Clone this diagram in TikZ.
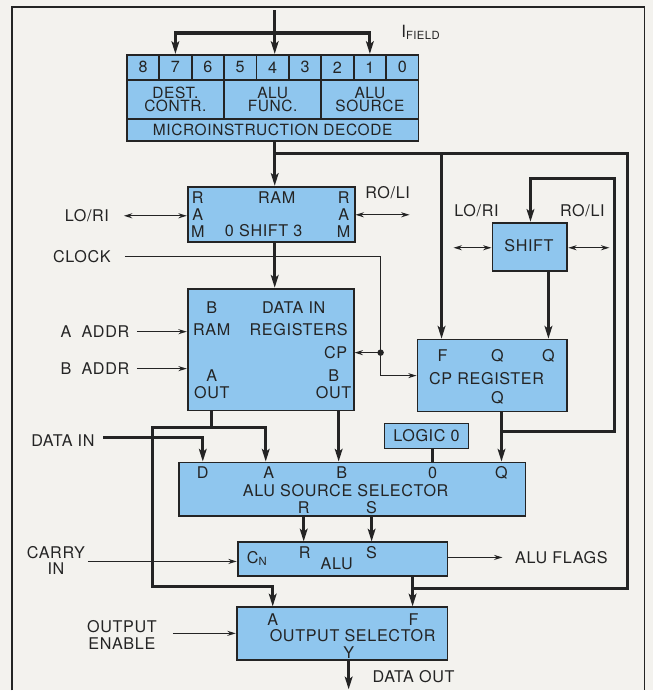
\documentclass[tikz,border=0pt]{standalone}
\usepackage{fontspec}
\setmainfont{TeX Gyre Heros}[LetterSpace=4]
\usetikzlibrary{arrows.meta, calc}
\definecolor{chipblue}{HTML}{8FC6EE}
\definecolor{paper}{HTML}{F3F2EE}
\definecolor{ink}{HTML}{242424}

\begin{document}
\begin{tikzpicture}[
    x=0.025cm, y=-0.025cm,
    every node/.style={text=ink, font=\fontsize{11.5}{12}\selectfont, inner sep=1pt, align=center},
    box/.style={draw=ink, fill=chipblue, line width=1.3pt, inner sep=0pt, anchor=north west},
    bus/.style={draw=ink, line width=2.2pt, line cap=rect},
    busarrow/.style={bus, -{Stealth[length=9pt, width=5.5pt, inset=2pt]}},
    sig/.style={draw=ink, line width=0.9pt},
    sigarrow/.style={sig, -{Stealth[length=6pt, width=3.6pt]}},
    bidir/.style={sig, {Stealth[length=6pt, width=3.6pt]}-{Stealth[length=6pt, width=3.6pt]}},
  ]

  % Background and frame
  \fill[paper] (0,0) rectangle (654,691);
  \draw[ink, line width=1pt] (12,691) -- (12,7) -- (645,7) -- (645,691);

  % === Microinstruction decode ===
  \foreach \b [count=\k from 0] in {8,7,...,0}
    \node[box, minimum width=0.811cm, minimum height=0.625cm] (bit\b) at ({126+32.444*\k},54) {\b};
  \node[box, minimum width=2.433cm, minimum height=0.975cm, font=\fontsize{11}{9.6}\selectfont]
    (dest) at (126,79) {DEST.\\CONTR.};
  \node[box, minimum width=2.433cm, minimum height=0.975cm, font=\fontsize{11}{9.6}\selectfont]
    (func) at (223.33,79) {ALU\\FUNC.};
  \node[box, minimum width=2.433cm, minimum height=0.975cm, font=\fontsize{11}{9.6}\selectfont]
    (src) at (320.67,79) {ALU\\SOURCE};
  \node[box, minimum width=7.3cm, minimum height=0.55cm, font=\fontsize{11}{12}\selectfont]
    (decode) at (126,118) {MICROINSTRUCTION DECODE};
  \node (ifield) at (421,32) {{\fontsize{12}{13}\selectfont I}\raisebox{-1.5pt}{\fontsize{8}{9}\selectfont FIELD}};

  % === Blocks ===
  \node[box, minimum width=4.175cm, minimum height=1.375cm] (ramshift) at (187,186) {};
  \node[box, minimum width=4.15cm, minimum height=3.05cm] (ramreg) at (187,288) {};
  \node[box, minimum width=1.875cm, minimum height=1.2cm] (shift) at (492,222) {};
  \node[box, minimum width=3.75cm, minimum height=1.8cm] (cpreg) at (417,339) {};
  \node[box, minimum width=2.1cm, minimum height=0.625cm] (logic) at (384,423) {LOGIC 0};
  \node[box, minimum width=8.675cm, minimum height=1.35cm] (alusrc) at (178,462) {};
  \node[box, minimum width=5.25cm, minimum height=0.85cm] (alu) at (237,542) {};
  \node[box, minimum width=5.275cm, minimum height=1.325cm] (outsel) at (236,607) {};

  % labels inside the blocks
  \node (rsL) at (198,215) {R\\A\\M};
  \node (rsR) at (344,215) {R\\A\\M};
  \node (rsram) at (277,198) {RAM};
  \node (rsshift) at (264,231) {0 SHIFT 3};

  \node (rrB) at (212,308) {B};
  \node (rrdata) at (294,308) {DATA IN};
  \node (rrram) at (212,330) {RAM};
  \node (rrregs) at (299,330) {REGISTERS};
  \node (rrcp) at (336,353) {CP};
  \node (rraout) at (212,385) {A\\OUT};
  \node (rrbout) at (334,385) {B\\OUT};

  \node (shname) at (529.5,246) {SHIFT};

  \node (cpF) at (443,356) {F};
  \node (cpQa) at (498,356) {Q};
  \node (cpQb) at (549,356) {Q};
  \node (cpname) at (487,379) {CP REGISTER};
  \node (cpQc) at (498,398) {Q};

  \node (sD) at (203,473) {D};
  \node (sA) at (269,473) {A};
  \node (sB) at (342,473) {B};
  \node (sZ) at (433,473) {0};
  \node (sQ) at (502,473) {Q};
  \node (sname) at (346,491) {ALU SOURCE SELECTOR};
  \node (sR) at (304,508) {R};
  \node (sS) at (372,508) {S};

  \node (aluCn) at (257,559) {C\raisebox{-2pt}{\fontsize{8}{9}\selectfont N}};
  \node (aluR) at (305,553) {R};
  \node (aluname) at (337,564) {ALU};
  \node (aluS) at (372,553) {S};

  \node (oA) at (273,620) {A};
  \node (oname) at (353,636) {OUTPUT SELECTOR};
  \node (oF) at (414,620) {F};
  \node (oY) at (349,653) {Y};

  % outside labels
  \node (lori1) at (87,216) {LO/RI};
  \node (roli1) at (388,193) {RO/LI};
  \node (lori2) at (477,211) {LO/RI};
  \node (roli2) at (583,211) {RO/LI};
  \node (clock) at (82,257) {CLOCK};
  \node (aaddr) at (95,332) {A~~ADDR};
  \node (baddr) at (95,369) {B~~ADDR};
  \node (datain) at (63,441) {DATA IN};
  \node (carry) at (56,561) {CARRY\\IN};
  \node (flags) at (562,558) {ALU FLAGS};
  \node (oe) at (122,636) {OUTPUT\\ENABLE};
  \node (dataout) at (414,677) {DATA OUT};

  % === Instruction field ===
  \coordinate (fin) at (275,12);
  \coordinate (fbar) at (275,33);
  \draw[bus] (fin) -- (fbar);
  \draw[busarrow] (fbar) -| (bit7.north);
  \draw[busarrow] (fbar) -| (bit1.north);
  \draw[busarrow] (fbar) -- (fbar |- bit4.north);

  % === F bus and feedback ===
  \coordinate (dtap) at (275,154);
  \coordinate (fr1) at (628,154);
  \coordinate (fr2) at (628,589);
  \coordinate (fjoin) at (413,589);
  \coordinate (cpf) at (442,154);
  \draw[busarrow] (dtap |- decode.south) -- (dtap |- ramshift.north);
  \draw[bus] (dtap) -- (fr1) -- (fr2) -- (fjoin);
  \draw[busarrow] (cpf) -- (cpf |- cpreg.north);
  \draw[busarrow] (dtap |- ramshift.south) -- (dtap |- ramreg.north);
  \draw[busarrow] (fjoin |- alu.south) -- (fjoin |- outsel.north);

  % === Q loop ===
  \coordinate (qj) at (502,432);
  \coordinate (qr1) at (615,432);
  \coordinate (qr2) at (615,179);
  \coordinate (qtop) at (531,179);
  \coordinate (sq) at (549,300);
  \draw[bus] (qj |- cpreg.south) -- (qj);
  \draw[busarrow] (qj) -- (qj |- alusrc.north);
  \draw[busarrow] (qj) -- (qr1) -- (qr2) -- (qtop) -- (qtop |- shift.north);
  \draw[busarrow] (sq |- shift.south) -- (sq |- cpreg.north);

  % === Shifter ports ===
  \coordinate (lr1) at (124,216);
  \coordinate (rl1) at (410,215);
  \coordinate (lr2) at (454,248);
  \coordinate (rl2) at (610,248);
  \draw[bidir] (lr1) -- (ramshift.west |- lr1);
  \draw[bidir] (ramshift.east |- rl1) -- (rl1);
  \draw[bidir] (lr2) -- (shift.west |- lr2);
  \draw[bidir] (shift.east |- rl2) -- (rl2);

  % === Clock and addresses ===
  \coordinate (clk0) at (125,257);
  \coordinate (clk1) at (381,257);
  \coordinate (clkdot) at (381,353);
  \coordinate (clk2) at (381,376);
  \draw[sigarrow] (clk0) -- (clk1) -- (clk2) -- (cpreg.west |- clk2);
  \fill[ink] (clkdot) circle (2.3pt);
  \draw[sigarrow] (clkdot) -- (ramreg.east |- clkdot);
  \coordinate (aa0) at (137,332);
  \coordinate (ba0) at (137,369);
  \draw[sigarrow] (aa0) -- (ramreg.west |- aa0);
  \draw[sigarrow] (ba0) -- (ramreg.west |- ba0);

  % === RAM outputs and data in ===
  \coordinate (aj) at (212,428);
  \coordinate (aL) at (153,428);
  \coordinate (aR) at (266,428);
  \coordinate (abot) at (153,587);
  \coordinate (aob) at (273,587);
  \coordinate (bo) at (339,440);
  \coordinate (din0) at (105,438);
  \draw[bus] (ramreg.south -| aj) -- (aj);
  \draw[busarrow] (aL) -- (aR) -- (aR |- alusrc.north);
  \draw[busarrow] (aL) -- (abot) -- (aob) -- (aob |- outsel.north);
  \draw[busarrow] (din0) -| (sD |- alusrc.north);
  \draw[busarrow] (bo |- ramreg.south) -- (bo |- alusrc.north);
  \draw[bus] (sZ |- logic.south) -- (sZ |- alusrc.north);

  % === ALU ===
  \draw[busarrow] (sR |- alusrc.south) -- (sR |- alu.north);
  \draw[busarrow] (sS |- alusrc.south) -- (sS |- alu.north);
  \coordinate (cin0) at (88,562);
  \coordinate (fl0) at (503,558);
  \draw[sigarrow] (cin0) -- (alu.west |- cin0);
  \draw[sigarrow] (alu.east |- fl0) -- (fl0);

  % === Output selector ===
  \coordinate (oe0) at (173,634);
  \coordinate (dout) at (349,690);
  \draw[sigarrow] (oe0) -- (outsel.west |- oe0);
  \draw[busarrow] (oY |- outsel.south) -- (dout);

\end{tikzpicture}
\end{document}
